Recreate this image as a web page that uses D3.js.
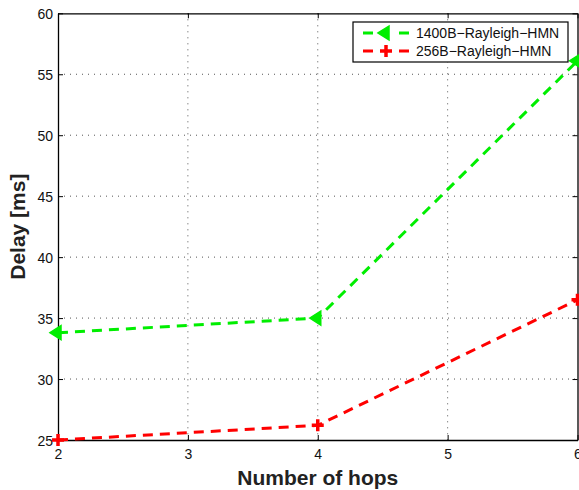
<!DOCTYPE html>
<html><head><meta charset="utf-8">
<script src="https://cdn.jsdelivr.net/npm/d3@7"></script>
<style>body{margin:0;background:#fff;} text{font-family:"Liberation Sans",Arial,sans-serif;}</style>
</head><body>
<svg id="c" width="579" height="490"></svg>
<script>
const hops = [2, 4, 6];
const delay1400 = [33.8, 35.0, 56.1];
const delay256 = [25.0, 26.2, 36.5];
const xTicks = [2, 3, 4, 5, 6];
const yTicks = [25, 30, 35, 40, 45, 50, 55, 60];
const seriesNames = ["1400B\u2212Rayleigh\u2212HMN", "256B\u2212Rayleigh\u2212HMN"];

const svg = d3.select("#c");
const L = 58, R = 577.5, T = 13.3, B = 440;
const x = d3.scaleLinear().domain([2, 6]).range([L, R]);
const y = d3.scaleLinear().domain([25, 60]).range([B, T]);

// grid
const g = svg.append("g");
g.selectAll(".gx").data(xTicks.slice(1, -1)).enter().append("line")
  .attr("x1", d => x(d)).attr("x2", d => x(d)).attr("y1", T).attr("y2", B)
  .attr("stroke", "#555").attr("stroke-width", 1).attr("stroke-dasharray", "1,5");
g.selectAll(".gy").data(yTicks.slice(1, -1)).enter().append("line")
  .attr("y1", d => y(d)).attr("y2", d => y(d)).attr("x1", L).attr("x2", R)
  .attr("stroke", "#555").attr("stroke-width", 1).attr("stroke-dasharray", "1,5");

// axes
const fmt = d3.format("d");
const xa = svg.append("g").attr("transform", `translate(0,${B})`)
  .call(d3.axisBottom(x).tickValues(xTicks).tickFormat(fmt).tickSizeInner(-5).tickSizeOuter(0).tickPadding(9));
const xt = svg.append("g").attr("transform", `translate(0,${T})`)
  .call(d3.axisTop(x).tickValues(xTicks).tickSizeInner(-5).tickSizeOuter(0).tickFormat(""));
const ya = svg.append("g").attr("transform", `translate(${L},0)`)
  .call(d3.axisLeft(y).tickValues(yTicks).tickFormat(fmt).tickSizeInner(-5).tickSizeOuter(0).tickPadding(5));
const yr = svg.append("g").attr("transform", `translate(${R},0)`)
  .call(d3.axisRight(y).tickValues(yTicks).tickSizeInner(-5).tickSizeOuter(0).tickFormat(""));
[xa, xt, ya, yr].forEach(a => {
  a.selectAll("path").attr("stroke", "#000").attr("stroke-width", 1.3);
  a.selectAll("line").attr("stroke", "#000");
  a.selectAll("text").attr("font-size", 14).attr("fill", "#111")
   .style("font-family", "'Liberation Sans',Arial,sans-serif");
});
ya.selectAll("text").attr("dy", "0.38em");

// lines
const line = d3.line().x((d, i) => x(hops[i])).y(d => y(d));
const series = [
  {vals: delay1400, color: "#00ee00", marker: "tri"},
  {vals: delay256, color: "#ff0000", marker: "plus"}
];
series.forEach(s => {
  svg.append("path").datum(s.vals).attr("d", line).attr("fill", "none")
    .attr("stroke", s.color).attr("stroke-width", 3).attr("stroke-dasharray", "10,7");
});

function marker(sel, type, color, cx, cy) {
  if (type === "tri") {
    sel.append("path").attr("d", `M${cx-8},${cy} L${cx+3},${cy-7} L${cx+3},${cy+7} Z`)
      .attr("fill", color).attr("stroke", color).attr("stroke-width", 1.5);
  } else {
    sel.append("path").attr("d", `M${cx-6},${cy} H${cx+6} M${cx},${cy-6} V${cy+6}`)
      .attr("stroke", color).attr("stroke-width", 3.5);
  }
}
series.forEach(s => {
  s.vals.forEach((v, i) => marker(svg, s.marker, s.color, x(hops[i]), y(v)));
});

// legend
const lg = svg.append("g");
lg.append("rect").attr("x", 353).attr("y", 22).attr("width", 215).attr("height", 40)
  .attr("fill", "#fff").attr("stroke", "#000").attr("stroke-width", 1.2);
series.forEach((s, i) => {
  const cy = 33 + i * 18;
  lg.append("line").attr("x1", 363).attr("x2", 409).attr("y1", cy).attr("y2", cy)
    .attr("stroke", s.color).attr("stroke-width", 3).attr("stroke-dasharray", "10,8");
  lg.append("rect").attr("x", 378).attr("y", cy - 9).attr("width", 16).attr("height", 18).attr("fill", "#fff");
  marker(lg, s.marker, s.color, 386, cy);
  lg.append("text").attr("x", 416).attr("y", cy).attr("dy", "0.36em")
    .attr("font-size", 14).attr("fill", "#111").text(seriesNames[i]);
});

// axis titles
svg.append("text").attr("x", (L + R) / 2).attr("y", 485).attr("text-anchor", "middle")
  .attr("font-size", 21).attr("font-weight", "bold").attr("fill", "#222").text("Number of hops");
svg.append("text").attr("transform", `translate(25,${(T + B) / 2}) rotate(-90)`)
  .attr("text-anchor", "middle").attr("font-size", 21).attr("font-weight", "bold")
  .attr("fill", "#222").text("Delay [ms]");
</script>
</body></html>
